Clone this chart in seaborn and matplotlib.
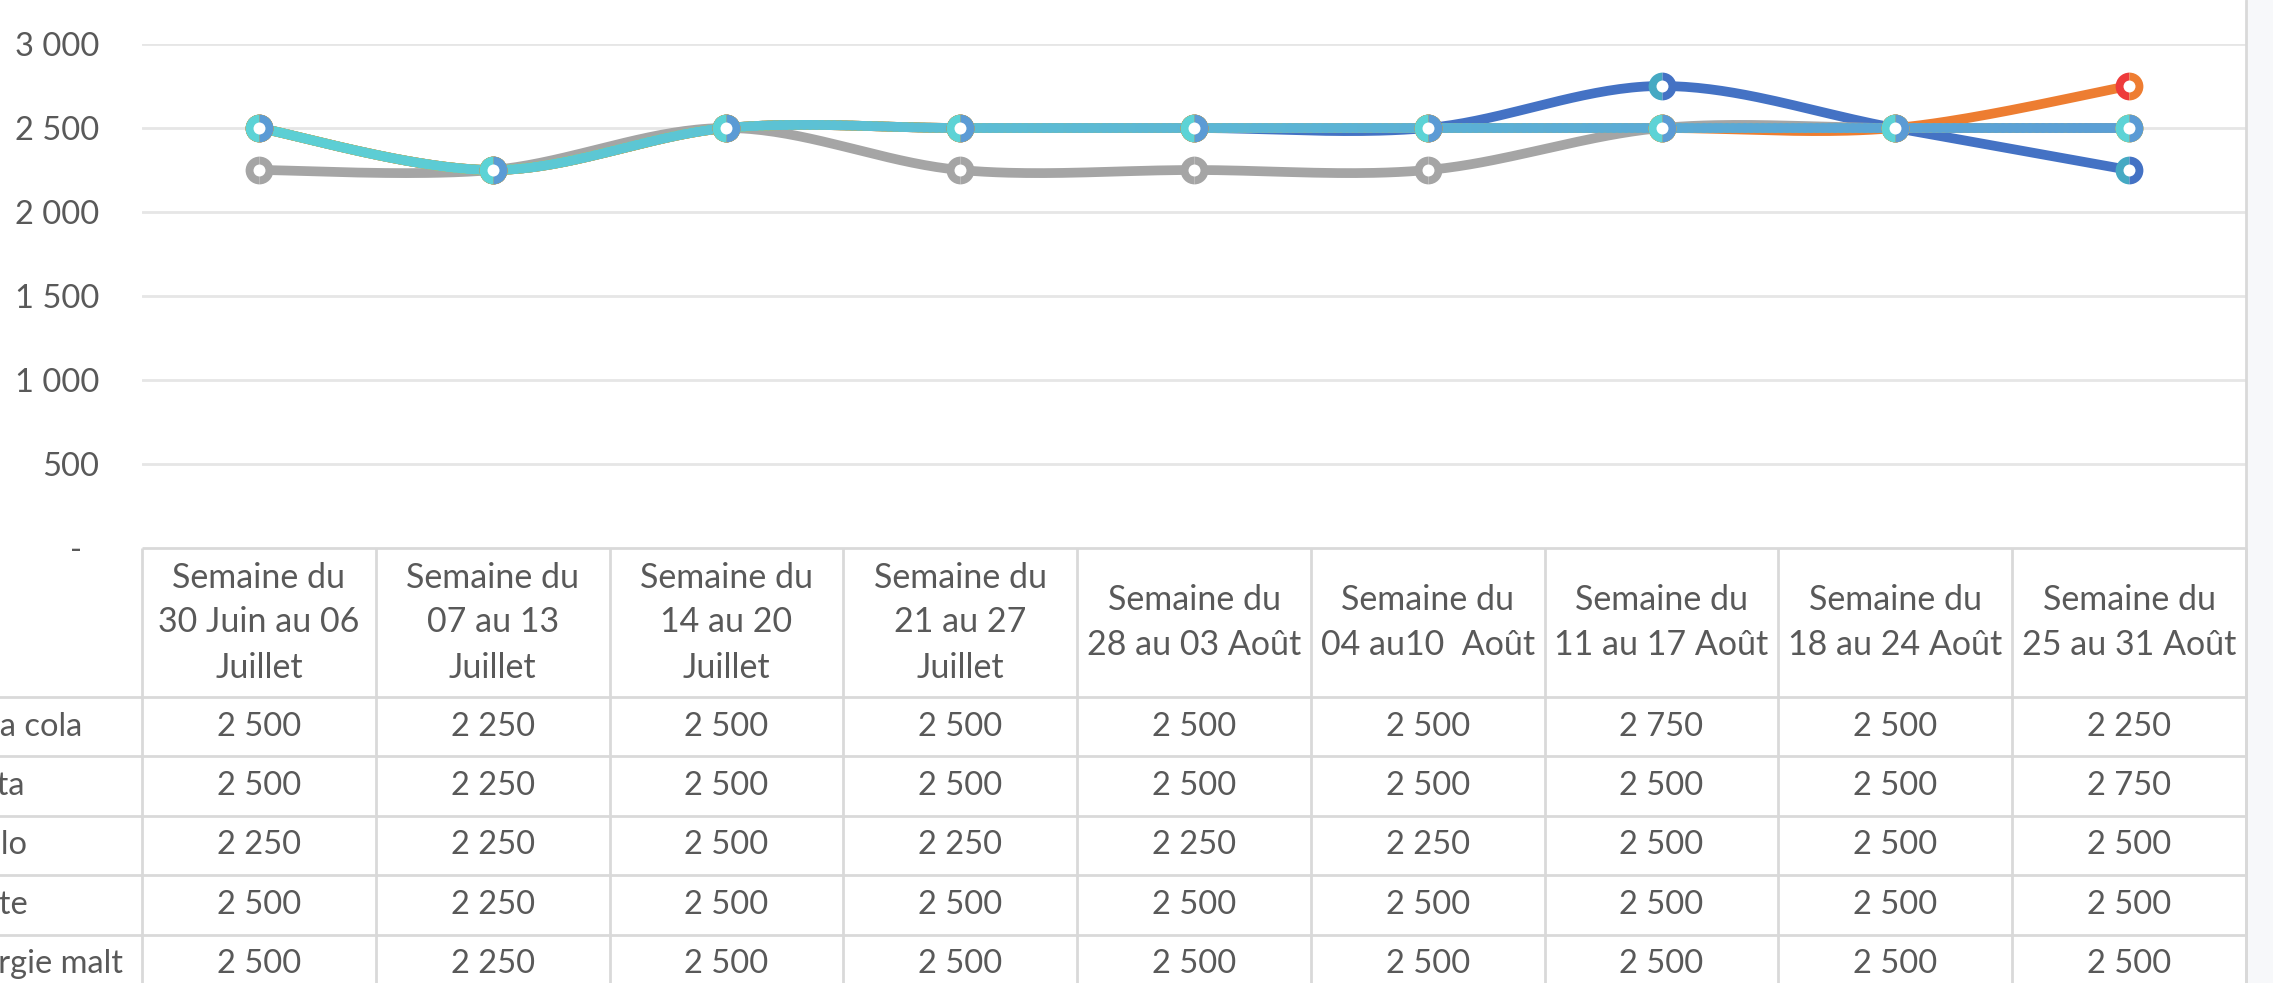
import numpy as np
import pandas as pd
import matplotlib.pyplot as plt
import seaborn as sns
from matplotlib.collections import LineCollection
from matplotlib.colors import LinearSegmentedColormap
from matplotlib.lines import Line2D
from matplotlib.patches import Rectangle

# Données du graphique
semaines = [
    "Semaine du\n30 Juin au 06\nJuillet",
    "Semaine du\n07 au 13\nJuillet",
    "Semaine du\n14 au 20\nJuillet",
    "Semaine du\n21 au 27\nJuillet",
    "Semaine du\n28 au 03 Août",
    "Semaine du\n04 au10  Août",
    "Semaine du\n11 au 17 Août",
    "Semaine du\n18 au 24 Août",
    "Semaine du\n25 au 31 Août",
]
produits = ["Coca cola", "Fanta", "Vitalo", "Sprite", "Energie malt"]
coca_cola = [2500, 2250, 2500, 2500, 2500, 2500, 2750, 2500, 2250]
fanta = [2500, 2250, 2500, 2500, 2500, 2500, 2500, 2500, 2750]
vitalo = [2250, 2250, 2500, 2250, 2250, 2250, 2500, 2500, 2500]
sprite = [2500, 2250, 2500, 2500, 2500, 2500, 2500, 2500, 2500]
energie_malt = [2500, 2250, 2500, 2500, 2500, 2500, 2500, 2500, 2500]
yticks = [0, 500, 1000, 1500, 2000, 2500, 3000]

series = [coca_cola, fanta, vitalo, sprite, energie_malt]


def smooth(vals, n=40):
    # courbe lissée façon Excel (Bezier / Catmull-Rom) pour le tracé seulement
    p = np.column_stack([np.arange(len(vals)), np.asarray(vals, float)])
    out = []
    t = np.linspace(0, 1, n)[:, None]
    for i in range(len(p) - 1):
        p0, p1 = p[max(i - 1, 0)], p[i]
        p2, p3 = p[i + 1], p[min(i + 2, len(p) - 1)]
        c1 = p1 + (p2 - p0) / 6
        c2 = p2 - (p3 - p1) / 6
        b = (1 - t) ** 3 * p1 + 3 * (1 - t) ** 2 * t * c1 + 3 * (1 - t) * t ** 2 * c2 + t ** 3 * p2
        out.append(b if i == len(p) - 2 else b[:-1])
    return np.vstack(out)


sns.set_theme(style="white")
plt.rcParams['font.family'] = ['Lato', 'DejaVu Sans']
txt = '#595959'
fs = 23.5

W, H = 2273, 983
fig = plt.figure(figsize=(W / 100, H / 100), dpi=100)
fig.patch.set_facecolor('white')
ax = fig.add_axes([142 / W, 1 - 548 / H, (2246 - 142) / W, (548 - 44) / H])
ax.set_xlim(-0.5, 8.5)
ax.set_ylim(0, 3000)
for s in ax.spines.values():
    s.set_visible(False)
for v in yticks[1:]:
    ax.axhline(v, color='#E6E6E6', lw=2.0, zorder=0)
ax.set_yticks(yticks)
ax.set_yticklabels([f"{v:,}".replace(",", " ") if v else "-  " for v in yticks])
ax.tick_params(axis='y', length=0, pad=31, labelsize=fs, labelcolor=txt)
ax.set_xticks([])

lw = 7
couleurs = ['#4472C4', '#ED7D31', '#A5A5A5', '#FFC000']
for vals, c in zip(series[:4], couleurs):
    cur = smooth(vals)
    sns.lineplot(x=cur[:, 0], y=cur[:, 1], sort=False, estimator=None, color=c,
                 lw=lw, ax=ax, legend=False, solid_capstyle='round')

# Energie malt : ligne en dégradé turquoise -> bleu
cur = smooth(energie_malt)
segs = np.stack([cur[:-1], cur[1:]], axis=1)
cmap = LinearSegmentedColormap.from_list('em', ['#5CD3D4', '#5B9BD5'])
lc = LineCollection(segs, cmap=cmap, norm=plt.Normalize(-0.5, 8.5),
                    capstyle='round', zorder=3)
lc.set_array(cur[:-1, 0])
lc.set_linewidth(lw)
ax.add_collection(lc)

# marqueurs (anneaux en deux tons pour imiter le dégradé)
x = np.arange(len(semaines))
marq = [('#45A9C3', '#4472C4'), ('#EE3B3B', '#EE7D31'), ('#A5A5A5', '#A5A5A5'),
        ('#FFB000', '#FFC000'), ('#5CD3D6', '#5B9BD5')]
for vals, (c1, c2) in zip(series, marq):
    ax.plot(x, vals, ls='none', marker='o', ms=20, mew=0, fillstyle='left',
            markerfacecolor=c1, markerfacecoloralt=c2, zorder=4)
    ax.plot(x, vals, ls='none', marker='o', ms=8.6, mew=0, color='white', zorder=4)

# Table de données
th = 983 - 548
ax_t = fig.add_axes([142 / W, 0, (2246 - 142) / W, th / H])
ax_t.set_xlim(-0.5, 8.5)
ax_t.set_ylim(th, 0)
ax_t.axis('off')
head_h, row_h = 149, 59.4
grid = '#D9D9D9'
ax_t.hlines(0, -0.5, 8.5, color=grid, lw=2, clip_on=False)
for k in range(len(produits)):
    ax_t.hlines(head_h + k * row_h, -1.2, 8.5, color=grid, lw=2, clip_on=False)
ax_t.vlines(np.arange(-0.5, 9.0, 1), 0, th + 20, color=grid, lw=2, clip_on=False)

for i, lab in enumerate(semaines):
    ax_t.text(i, head_h / 2, lab, ha='center', va='center', fontsize=24.5, color=txt,
              linespacing=1.5)
# les noms de produits sont coupés par le bord gauche, comme dans l'original
x_lab = -0.5 - (142 + 56) / 233.8
for k, (nom, vals) in enumerate(zip(produits, series)):
    yc = head_h + (k + 0.5) * row_h
    ax_t.text(x_lab, yc, nom, ha='left', va='center', fontsize=fs, color=txt, clip_on=False)
    for i, v in enumerate(vals):
        ax_t.text(i, yc, f"{v:,}".replace(",", " "), ha='center', va='center',
                  fontsize=fs, color=txt)

# bord droit de la zone du graphique
fig.add_artist(Rectangle((2247 / W, 0), 26 / W, 1, transform=fig.transFigure,
                         color='#F7F8FA', zorder=0))
fig.add_artist(Line2D([2246 / W, 2246 / W], [0, 1], transform=fig.transFigure,
                      color=grid, lw=2))

fig.savefig('out.png', dpi=100)
